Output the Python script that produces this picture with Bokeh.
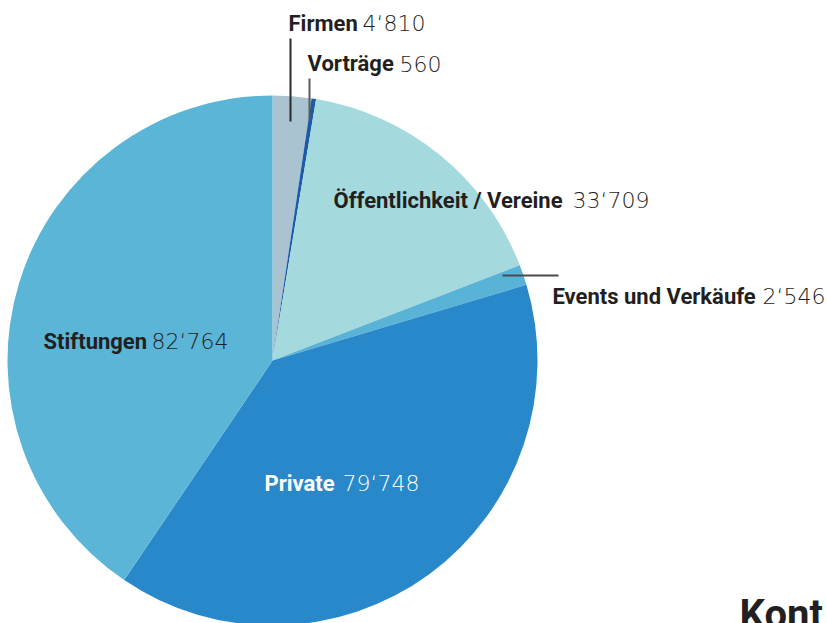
import math
from bokeh.plotting import figure
from bokeh.models import Range1d, ColumnDataSource
from bokeh.core.properties import value
from bokeh.embed import file_html
from bokeh.resources import INLINE

# ---- data ----
categories = ["Firmen", "Vorträge", "Öffentlichkeit / Vereine", "Events und Verkäufe", "Private", "Stiftungen"]
amounts = [4810, 560, 33709, 2546, 79748, 82764]
amount_labels = ["4‘810", "560", "33‘709", "2‘546", "79‘748", "82‘764"]
colors = ["#a9c3d1", "#1b5ca8", "#a4d9dd", "#58b3d6", "#2888c9", "#5ab5d6"]

# ---- layout (screen pixel positions of annotations) ----
W, H = 827, 623
CX, CY, R = 272, 360, 265
label_pos = {  # (label x, value x, baseline y)
    "Firmen": (288, 362, 30),
    "Vorträge": (307, 399, 70),
    "Öffentlichkeit / Vereine": (333, 572, 207),
    "Events und Verkäufe": (552, 762, 303),
    "Private": (264, 342, 490),
    "Stiftungen": (43, 151, 348),
}
label_color = {"Private": "white"}
leaders = [  # x0, y0, x1, y1, color
    (290, 38, 290, 121, "#2a2a2a"),
    (309, 78, 309, 120, "#5a5a5a"),
    (502, 275, 558, 275, "#4a4a4a"),
]
BOLD_FONT = "Roboto, sans-serif"
LIGHT_FONT = "'DejaVu Sans Light', 'DejaVu Sans ExtraLight', 'DejaVu Sans', sans-serif"
TEXT_SHIFT = 7  # compensates the renderer's baseline placement


def sx(x):
    return x


def sy(y):
    return -y


p = figure(width=W, height=H, output_backend="svg", toolbar_location=None,
           x_range=Range1d(0, W), y_range=Range1d(-H, 0),
           min_border=0)
p.axis.visible = False
p.grid.visible = False
p.outline_line_color = None
p.background_fill_color = "white"

total = float(sum(amounts))
starts, ends = [], []
cum = 0.0
for a in amounts:
    t0 = cum / total * 2 * math.pi
    cum += a
    t1 = cum / total * 2 * math.pi
    starts.append(math.pi / 2 - t0)
    ends.append(math.pi / 2 - t1)

src = ColumnDataSource(dict(x=[sx(CX)] * len(amounts), y=[sy(CY)] * len(amounts),
                            start=starts, end=ends, color=colors, cat=categories))
p.wedge(x="x", y="y", radius=R, start_angle="start", end_angle="end",
        direction="clock", fill_color="color", line_color=None, source=src)

for x0, y0, x1, y1, c in leaders:
    p.segment(x0=[sx(x0)], y0=[sy(y0)], x1=[sx(x1)], y1=[sy(y1)], line_color=c, line_width=2)

for cat, val in zip(categories, amount_labels):
    lx, vx, by = label_pos[cat]
    col = label_color.get(cat, "#231f20")
    p.text(x=[sx(lx)], y=[sy(by - TEXT_SHIFT)], text=[cat], text_font=value(BOLD_FONT),
           text_font_style="bold", text_font_size="22px", text_color=col,
           text_baseline="alphabetic", text_align="left")
    p.text(x=[sx(vx)], y=[sy(by - TEXT_SHIFT)], text=[val], text_font=value(LIGHT_FONT),
           text_font_size="22px", text_color=col,
           text_baseline="alphabetic", text_align="left")

p.text(x=[sx(739)], y=[sy(614)], text=["Kont"], text_font=value(BOLD_FONT),
       text_font_style="bold", text_font_size="40px", text_color="#231f20",
       text_baseline="alphabetic", text_align="left")

open("out.html", "w").write(file_html(p, INLINE))
